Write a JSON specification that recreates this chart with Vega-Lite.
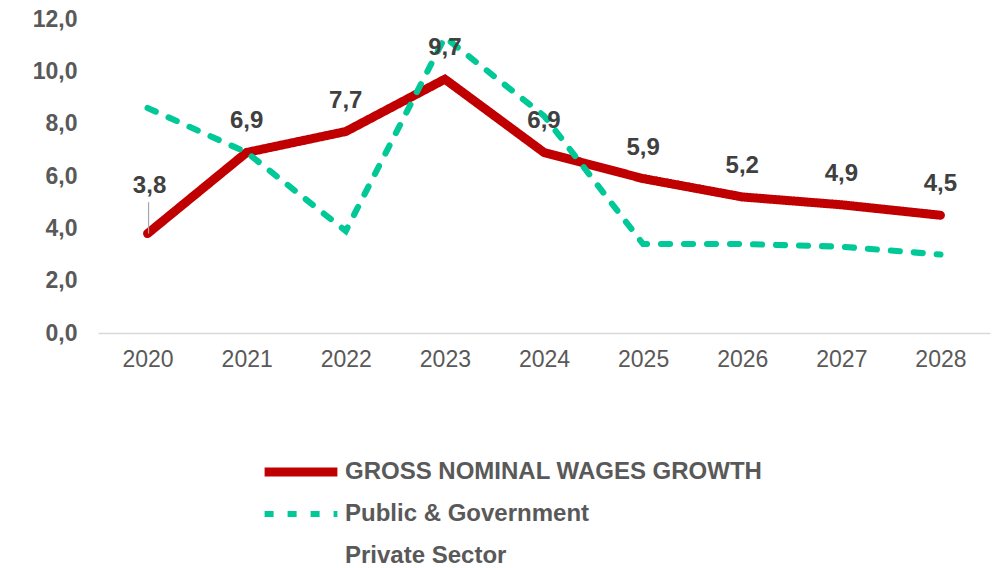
{
  "$schema": "https://vega.github.io/schema/vega-lite/v6.json",
  "width": 892,
  "height": 314,
  "autosize": {"type": "none"},
  "padding": {"left": 98, "top": 19, "right": 4, "bottom": 235},
  "background": "white",
  "config": {
    "view": {"stroke": null},
    "font": "Liberation Sans",
    "axis": {"grid": false, "ticks": false, "domain": false, "labelColor": "#595959", "title": null}
  },
  "data": {
    "values": [
      {"year": "2020", "series": "GROSS NOMINAL WAGES GROWTH", "value": 3.8},
      {"year": "2021", "series": "GROSS NOMINAL WAGES GROWTH", "value": 6.9},
      {"year": "2022", "series": "GROSS NOMINAL WAGES GROWTH", "value": 7.7},
      {"year": "2023", "series": "GROSS NOMINAL WAGES GROWTH", "value": 9.7},
      {"year": "2024", "series": "GROSS NOMINAL WAGES GROWTH", "value": 6.9},
      {"year": "2025", "series": "GROSS NOMINAL WAGES GROWTH", "value": 5.9},
      {"year": "2026", "series": "GROSS NOMINAL WAGES GROWTH", "value": 5.2},
      {"year": "2027", "series": "GROSS NOMINAL WAGES GROWTH", "value": 4.9},
      {"year": "2028", "series": "GROSS NOMINAL WAGES GROWTH", "value": 4.5},
      {"year": "2020", "series": "Public & Government", "value": 8.6},
      {"year": "2021", "series": "Public & Government", "value": 6.9},
      {"year": "2022", "series": "Public & Government", "value": 3.9},
      {"year": "2023", "series": "Public & Government", "value": 11.3},
      {"year": "2024", "series": "Public & Government", "value": 8.3},
      {"year": "2025", "series": "Public & Government", "value": 3.4},
      {"year": "2026", "series": "Public & Government", "value": 3.4},
      {"year": "2027", "series": "Public & Government", "value": 3.3},
      {"year": "2028", "series": "Public & Government", "value": 3.0}
    ]
  },
  "encoding": {
    "x": {
      "field": "year", "type": "ordinal",
      "scale": {"type": "point", "padding": 0.5},
      "axis": {"labelAngle": 0, "labelFontSize": 23, "labelPadding": 15, "domain": true, "domainColor": "#d9d9d9", "domainWidth": 1.5}
    },
    "y": {
      "field": "value", "type": "quantitative",
      "scale": {"domain": [0, 12], "nice": false},
      "axis": {"values": [0, 2, 4, 6, 8, 10, 12], "labelFontSize": 23, "labelFontWeight": "bold", "labelPadding": 21,
               "labelExpr": "replace(format(datum.value, '.1f'), '.', ',')"}
    }
  },
  "layer": [
    {
      "mark": {"type": "line", "strokeCap": "round", "strokeJoin": "miter"},
      "encoding": {
        "color": {
          "field": "series", "type": "nominal",
          "scale": {"domain": ["GROSS NOMINAL WAGES GROWTH", "Public & Government", "Private Sector"], "range": ["#c00000", "#00c896", "#ffffff"]},
          "legend": {
            "title": null, "orient": "none", "legendX": 162, "legendY": 432,
            "symbolType": "stroke", "symbolSize": 5300, "labelFontSize": 24, "labelFontWeight": "bold",
            "labelColor": "#595959", "labelOffset": 3, "rowPadding": 0, "clipHeight": 42, "padding": 0, "labelLimit": 700
          }
        },
        "strokeWidth": {
          "field": "series", "type": "nominal",
          "scale": {"domain": ["GROSS NOMINAL WAGES GROWTH", "Public & Government", "Private Sector"], "range": [9, 3.2, 3]},
          "legend": null
        },
        "strokeDash": {
          "field": "series", "type": "nominal",
          "scale": {"domain": ["GROSS NOMINAL WAGES GROWTH", "Public & Government", "Private Sector"], "range": [[1, 0], [9, 14], [1, 0]]},
          "legend": null
        },
        "order": {"field": "year"}
      }
    },
    {
      "transform": [
        {"filter": "datum.series == 'GROSS NOMINAL WAGES GROWTH' && datum.year != '2020'"},
        {"calculate": "replace(format(datum.value, '.1f'), '.', ',')", "as": "label"}
      ],
      "mark": {"type": "text", "dy": -31, "fontSize": 24, "fontWeight": "bold", "color": "#404040"},
      "encoding": {"text": {"field": "label", "type": "nominal"}}
    },
    {
      "transform": [
        {"filter": "datum.series == 'GROSS NOMINAL WAGES GROWTH' && datum.year == '2020'"},
        {"calculate": "replace(format(datum.value, '.1f'), '.', ',')", "as": "label"}
      ],
      "mark": {"type": "text", "dy": -48, "dx": 2, "fontSize": 24, "fontWeight": "bold", "color": "#404040"},
      "encoding": {"text": {"field": "label", "type": "nominal"}}
    },
    {
      "transform": [{"filter": "datum.series == 'GROSS NOMINAL WAGES GROWTH' && datum.year == '2020'"}],
      "mark": {"type": "rule", "color": "#a6a6a6", "strokeWidth": 1.2, "xOffset": 1},
      "encoding": {"y2": {"datum": 5.0}}
    }
  ]
}
